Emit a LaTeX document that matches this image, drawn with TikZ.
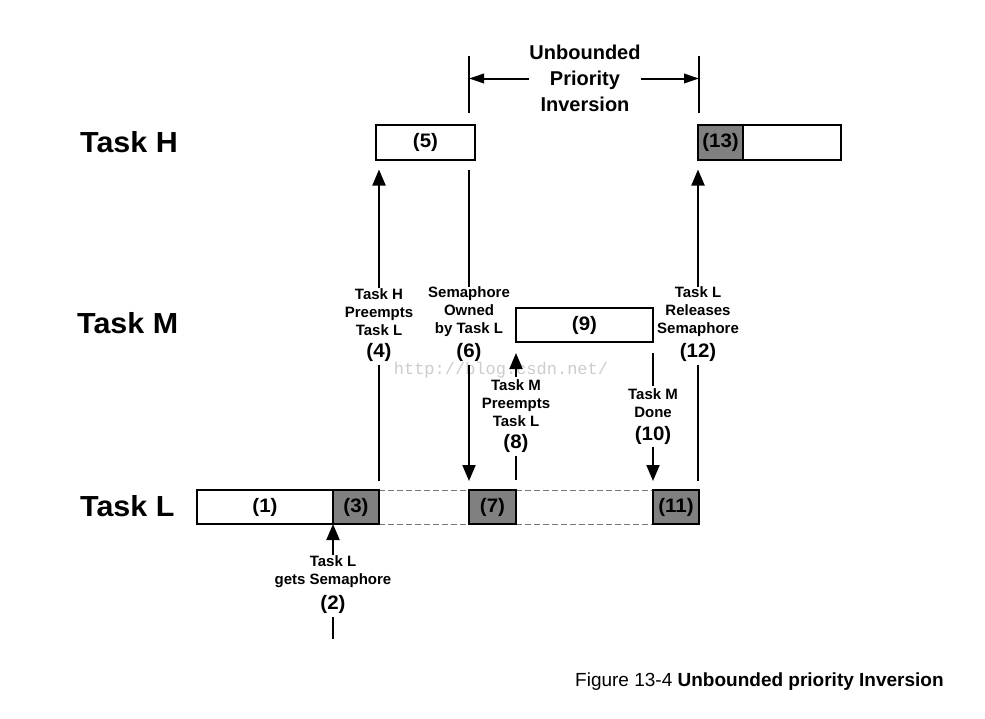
\documentclass[tikz,border=0pt]{standalone}
\usepackage{fontspec}
\setmainfont{Liberation Sans}
\setmonofont{Liberation Mono}
\newfontfamily\widesans{Liberation Sans}[FakeStretch=1.05]
\usetikzlibrary{arrows.meta}
\definecolor{boxgray}{RGB}{128,128,128}
\definecolor{dashgray}{RGB}{120,120,120}
\definecolor{wmgray}{RGB}{205,205,205}
\begin{document}
\begin{tikzpicture}[x=1pt,y=-1pt,
  tasklab/.style={anchor=base west,inner sep=0,font=\widesans\fontsize{29}{34}\selectfont\bfseries},
  tbox/.style={draw,line width=2pt,minimum height=34pt,inner sep=0,outer sep=0,font=\widesans\fontsize{19.5}{23}\selectfont\bfseries},
  gbox/.style={tbox,fill=boxgray},
  lab/.style={align=center,inner sep=0,outer sep=0,font=\fontsize{15}{18}\selectfont\bfseries},
  num/.style={inner sep=0,outer sep=0,font=\widesans\fontsize{19.5}{23}\selectfont\bfseries},
  conn/.style={line width=2pt},
  arr/.style={conn,-{Triangle[width=13pt,length=16pt]}},
  barr/.style={conn,-{Triangle[width=9.5pt,length=15pt]}},
  dline/.style={dashgray,line width=1pt,dash pattern=on 6pt off 3pt}
]
\useasboundingbox[fill=white] (0,0) rectangle (985,718);

% watermark
\node[inner sep=0,font=\fontsize{17}{20}\selectfont\ttfamily,text=wmgray] (wm) at (501,370) {http://blog.csdn.net/};

% task labels
\node[tasklab] (th) at (80,152) {Task H};
\node[tasklab] (tm) at (77,333.5) {Task M};
\node[tasklab] (tl) at (80,516) {Task L};

% Task L row
\draw[dline] (379,490) -- (469,490);
\draw[dline] (379,524) -- (469,524);
\draw[dline] (516,490) -- (653,490);
\draw[dline] (516,524) -- (653,524);
\node[tbox,minimum width=136pt] (b1) at (265,507) {(1)};
\node[gbox,minimum width=46pt] (b3) at (356,507) {(3)};
\node[gbox,minimum width=47pt] (b7) at (492.5,507) {(7)};
\node[gbox,minimum width=46pt] (b11) at (676,507) {(11)};

% Task M row
\node[tbox,minimum width=137pt] (b9) at (584.5,325) {(9)};

% Task H row
\node[tbox,minimum width=99pt,minimum height=35pt] (b5) at (425.5,142) {(5)};
\node[gbox,minimum width=45pt,minimum height=35pt] (b13) at (720.5,142) {(13)};
\node[tbox,minimum width=98pt,minimum height=35pt] (b13w) at (792,142) {};

% labels
\node[lab] (t4) at (379,312) {Task H\\Preempts\\Task L};
\node[num] (n4) at (379,352) {(4)};
\node[lab] (t6) at (469,312) {Semaphore\\Owned\\by Task L};
\node[num] (n6) at (469,352) {(6)};
\node[lab] (t12) at (698,312) {Task L\\Releases\\Semaphore};
\node[num] (n12) at (698,352) {(12)};
\node[lab] (t8) at (516,403.5) {Task M\\Preempts\\Task L};
\node[num] (n8) at (516,443) {(8)};
\node[lab] (t10) at (653,403.5) {Task M\\Done};
\node[num] (n10) at (653,435) {(10)};
\node[lab] (t2) at (333,571.5) {Task L\\gets Semaphore};
\node[num] (n2) at (333,604) {(2)};
\coordinate (e2) at (333,639);

% connectors
\draw[arr,shorten >=10pt] (t4.north) -- (t4.north |- b5.south);
\draw[conn,shorten <=3.5pt,shorten >=9pt] (n4.south) -- (n4.south |- b3.north);
\draw[conn,shorten >=10pt] (t6.north) -- (t6.north |- b5.south);
\draw[arr,shorten <=3.5pt,shorten >=9pt] (n6.south) -- (n6.south |- b7.north);
\draw[arr,shorten >=10pt] (t12.north) -- (t12.north |- b13.south);
\draw[conn,shorten <=3.5pt,shorten >=9pt] (n12.south) -- (n12.south |- b11.north);
\draw[arr,shorten <=3pt,shorten >=11pt] (t8.north) -- (t8.north |- b9.south);
\draw[conn,shorten <=3.5pt,shorten >=10pt] (n8.south) -- (n8.south |- b7.north);
\draw[conn,shorten <=11pt,shorten >=3pt] (t10.north |- b9.south) -- (t10.north);
\draw[arr,shorten <=2.5pt,shorten >=9pt] (n10.south) -- (n10.south |- b11.north);
\draw[arr] (t2.north) -- (t2.north |- b3.south);
\draw[conn,shorten <=4pt] (n2.south) -- (e2);

% bracket
\coordinate (bl1) at (469,56);
\coordinate (bl2) at (469,113);
\coordinate (br1) at (699,56);
\coordinate (br2) at (699,113);
\draw[conn] (bl1) -- (bl2);
\draw[conn] (br1) -- (br2);
\node[inner sep=0,outer sep=0,align=center,font=\fontsize{20}{26}\selectfont\bfseries] (ub) at (585,78.5) {Unbounded\\Priority\\Inversion};
\draw[barr] (ub.west) -- (ub.west -| bl1);
\draw[barr] (ub.east) -- (ub.east -| br1);

% caption
\node[anchor=base west,inner sep=0,font=\fontsize{19}{23}\selectfont] (cap) at (575,686) {Figure 13-4 \textbf{Unbounded priority Inversion}};
\end{tikzpicture}
\end{document}
